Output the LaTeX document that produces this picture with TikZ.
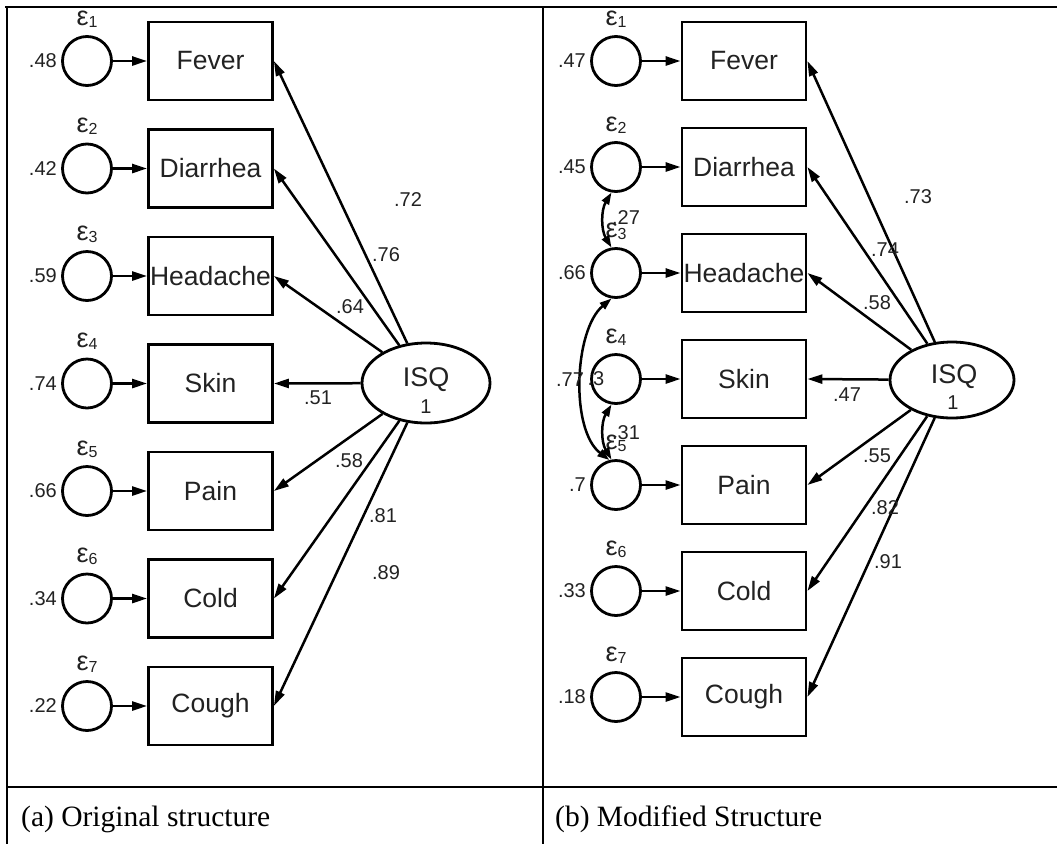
\documentclass[tikz,border=0pt]{standalone}
\usepackage{fontspec}
\setmainfont{Liberation Sans}
\newfontfamily\capfont{Liberation Serif}
\usetikzlibrary{arrows.meta,shapes.geometric}
\definecolor{txt}{HTML}{222222}
\newcommand\epslab[1]{ε\raisebox{-2pt}{\fontsize{16}{16}\selectfont #1}}
\tikzset{
  obs/.style={draw, line width=2.8pt, minimum width=124pt, minimum height=78pt,
    inner sep=0pt, font=\fontsize{26.5}{26.5}\selectfont, text=txt},
  err/.style={draw, circle, line width=2.8pt, minimum size=49pt, inner sep=0pt},
  lat/.style={draw, ellipse, line width=2.8pt, inner sep=0pt},
  load/.style={line width=2.5pt, -{Triangle[length=15pt,width=9pt]}},
  cov/.style={line width=2.5pt, {Triangle[length=12pt,width=8pt]}-{Triangle[length=12pt,width=8pt]}},
  num/.style={font=\fontsize{20}{20}\selectfont, text=txt, inner sep=0pt},
  epsl/.style={font=\fontsize{27}{27}\selectfont, text=txt, inner sep=0pt},
  rule/.style={line width=1.8pt},
  caption/.style={font=\capfont\fontsize{29.5}{29.5}\selectfont, anchor=base west, inner sep=0pt}
}
\begin{document}
\begin{tikzpicture}[x=1pt,y=-1pt]
\useasboundingbox (0,0) rectangle (1057,844);
% table frame
\draw[rule] (5,7) -- (1057,7);
\draw[rule] (7,7) -- (7,844);
\draw[rule] (543,7) -- (543,844);
\draw[line width=2.6pt] (7,787) -- (1057,787);
\node[caption] (capa) at (21,826) {(a) Original structure};
\node[caption] (capb) at (555,826) {(b) Modified Structure};

% ---------------- panel (a) ----------------
\foreach \i/\name/\v in {1/Fever/.48, 2/Diarrhea/.42, 3/Headache/.59, 4/Skin/.74,
                         5/Pain/.66, 6/Cold/.34, 7/Cough/.22} {
  \pgfmathsetmacro\yy{61+107.5*(\i-1)}
  \node[obs] (a\i) at (210.5,\yy) {\name};
  \node[err] (ae\i) at (87,\yy) {};
  \node[epsl] (aeps\i) at (87,\yy-42) {\epslab{\i}};
  \node[num, anchor=east] (av\i) at (57,\yy) {\v};
  \draw[load] (ae\i) -- (a\i.west);
}
\node[lat, minimum width=128pt, minimum height=80pt] (aisq) at (426,383) {};
\node[font=\fontsize{27}{27}\selectfont, text=txt] (aisqt) at (426,380) {ISQ};
\node[num] (aisq1) at (426,407) {1};
\foreach \i in {1,...,7} { \draw[load] (aisq) -- (a\i.east); }
\node[num] (al1) at (408,200) {.72};
\node[num] (al2) at (386,255) {.76};
\node[num] (al3) at (350,307) {.64};
\node[num] (al4) at (318,398) {.51};
\node[num] (al5) at (349,461) {.58};
\node[num] (al6) at (383,516) {.81};
\node[num] (al7) at (386,573) {.89};

% ---------------- panel (b) ----------------
\foreach \i/\name in {1/Fever, 2/Diarrhea, 3/Headache, 4/Skin,
                      5/Pain, 6/Cold, 7/Cough} {
  \pgfmathsetmacro\yy{61+106*(\i-1)}
  \node[obs] (b\i) at (744,\yy) {\name};
  \node[err] (be\i) at (616,\yy) {};
  \node[epsl] (beps\i) at (616,\yy-42) {\epslab{\i}};
  \draw[load] (be\i) -- (b\i.west);
}
\node[num, anchor=east] (bv1) at (586,61) {.47};
\node[num, anchor=east] (bv2) at (586,167) {.45};
\node[num, anchor=east] (bv3) at (586,273) {.66};
\node[num] (bv4) at (596,379) {.3};
\node[num, anchor=east] (bv5) at (586,485) {.7};
\node[num, anchor=east] (bv6) at (586,591) {.33};
\node[num, anchor=east] (bv7) at (586,697) {.18};

\node[lat, minimum width=124pt, minimum height=76pt] (bisq) at (952,380) {};
\node[font=\fontsize{27}{27}\selectfont, text=txt] (bisqt) at (954,377) {ISQ};
\node[num] (bisq1) at (953,403) {1};
\foreach \i in {1,...,7} { \draw[load] (bisq) -- (b\i.east); }
\node[num] (bl1) at (918,197) {.73};
\node[num] (bl2) at (885,250) {.74};
\node[num] (bl3) at (877,303) {.58};
\node[num] (bl4) at (847,395) {.47};
\node[num] (bl5) at (877,456) {.55};
\node[num] (bl6) at (885,508) {.82};
\node[num] (bl7) at (888,562) {.91};

% correlated errors
\draw[cov] (be2.-100) .. controls (601,210) and (601,230) .. (be3.100);
\draw[cov] (be4.-100) .. controls (601,422) and (601,442) .. (be5.100);
\draw[cov] (be3.-100) .. controls (574,330) and (570,430) .. (be5.105);
\node[num] (bc23) at (626,218) {.27};
\node[num] (bc45) at (626,433) {.31};
\node[num] (bc35) at (570,380) {.77};
\end{tikzpicture}
\end{document}
